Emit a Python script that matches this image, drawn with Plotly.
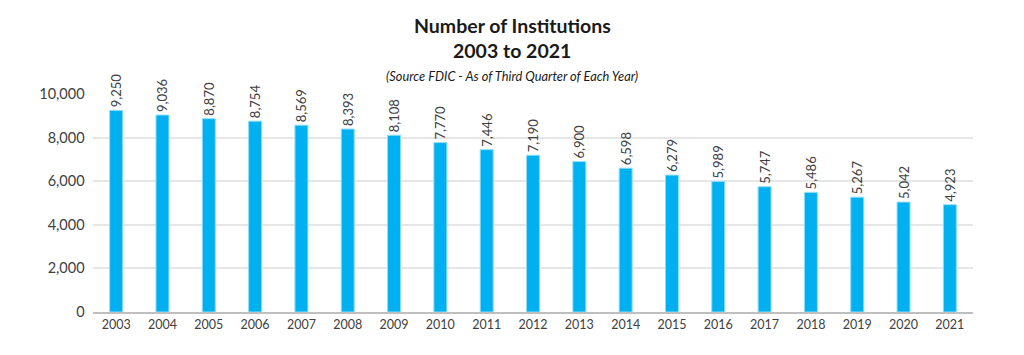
import plotly.graph_objects as go

years = [str(y) for y in range(2003, 2022)]
institutions = [9250, 9036, 8870, 8754, 8569, 8393, 8108, 7770, 7446, 7190,
                6900, 6598, 6279, 5989, 5747, 5486, 5267, 5042, 4923]
labels = [f"{v:,}" for v in institutions]

fig = go.Figure(go.Bar(
    x=years, y=institutions, text=labels, textposition="outside",
    textangle=-90, cliponaxis=False, constraintext="none",
    textfont=dict(size=13, color="#404040", family="Lato"),
    marker=dict(color="#00B0F0", line=dict(color="#8FDDF8", width=1)),
))

fig.update_layout(
    width=1024, height=355,
    margin=dict(l=93, r=51, t=94, b=43),
    paper_bgcolor="white", plot_bgcolor="white",
    bargap=0.72, showlegend=False,
    font=dict(family="Lato", color="#404040"),
    xaxis=dict(tickfont=dict(size=12.5), showline=True, linecolor="#BFBFBF",
               linewidth=1.5, ticks=""),
    yaxis=dict(range=[0, 10000], dtick=2000, tickformat=",", tickfont=dict(size=14.5),
               gridcolor="#E6E6E6", gridwidth=1.5, zeroline=False, ticks="",
               ticksuffix="  "),
    annotations=[
        dict(text="<b>Number of Institutions</b>", x=0.5, xref="paper", y=25, yref="paper",
             showarrow=False, font=dict(size=19.5, color="#1a1a1a")),
        dict(text="<b>2003 to 2021</b>", x=0.5, xref="paper", y=50, yref="paper",
             showarrow=False, font=dict(size=19.5, color="#1a1a1a")),
        dict(text="<i>(Source FDIC - As of Third Quarter of Each Year)</i>", x=0.5, xref="paper",
             y=76, yref="paper", showarrow=False, font=dict(size=12.8, color="#1a1a1a")),
    ],
)
# convert pixel y positions to paper coordinates
plot_h = 355 - 94 - 43
plot_w = 1024 - 93 - 51
center_x = (512 - 93) / plot_w
for a in fig.layout.annotations:
    a.y = (312 - a.y) / plot_h
    a.x = center_x
    a.yanchor = "middle"

fig.write_html("out.html", config={"displayModeBar": False},
               post_script="document.body.style.margin='0';")
